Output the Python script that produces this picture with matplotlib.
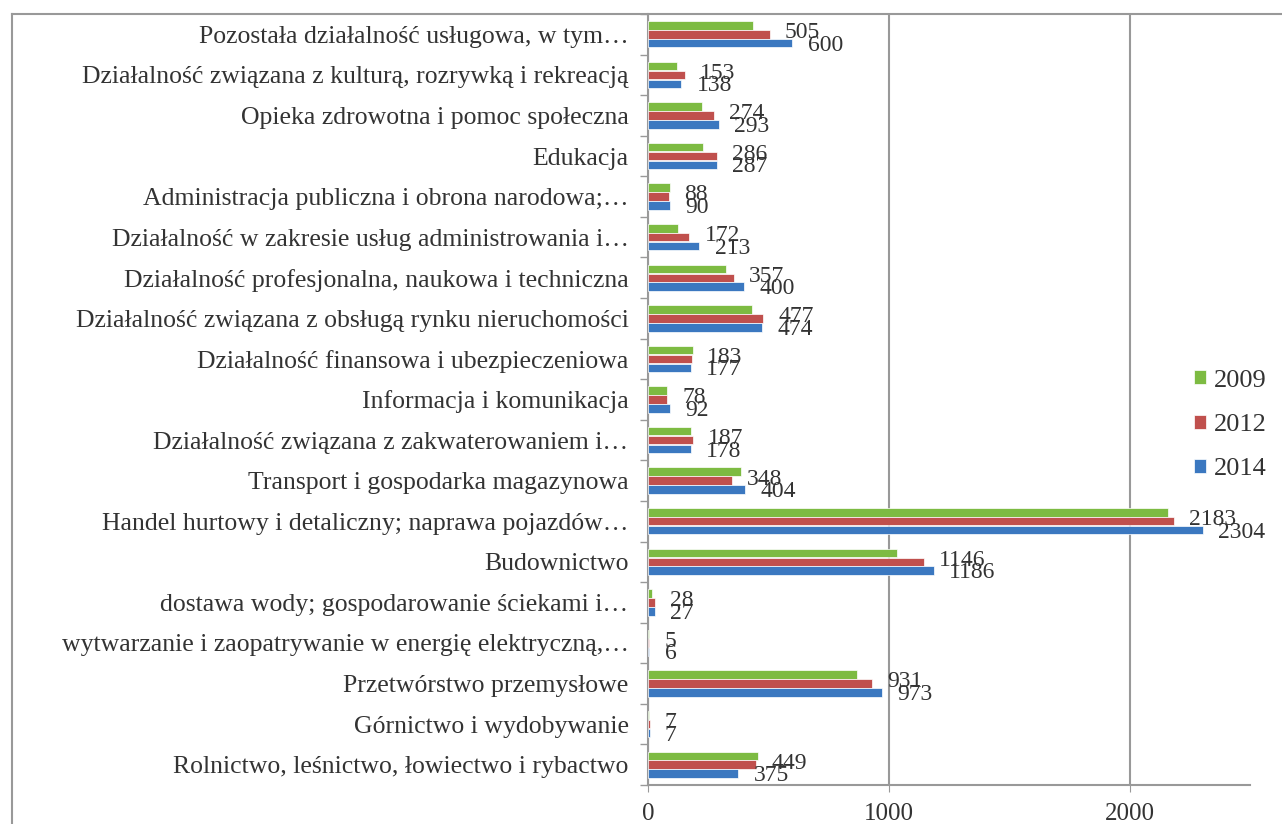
import matplotlib.pyplot as plt
import numpy as np
from matplotlib.lines import Line2D

plt.rcParams['font.family'] = ['Liberation Serif', 'DejaVu Serif']

# Kategorie (od dołu do góry)
kategorie = [
    'Rolnictwo, leśnictwo, łowiectwo i rybactwo',
    'Górnictwo i wydobywanie',
    'Przetwórstwo przemysłowe',
    'wytwarzanie i zaopatrywanie w energię elektryczną,…',
    'dostawa wody; gospodarowanie ściekami i…',
    'Budownictwo',
    'Handel hurtowy i detaliczny; naprawa pojazdów…',
    'Transport i gospodarka magazynowa',
    'Działalność związana z zakwaterowaniem i…',
    'Informacja i komunikacja',
    'Działalność finansowa i ubezpieczeniowa',
    'Działalność związana z obsługą rynku nieruchomości',
    'Działalność profesjonalna, naukowa i techniczna',
    'Działalność w zakresie usług administrowania i…',
    'Administracja publiczna i obrona narodowa;…',
    'Edukacja',
    'Opieka zdrowotna i pomoc społeczna',
    'Działalność związana z kulturą, rozrywką i rekreacją',
    'Pozostała działalność usługowa, w tym…',
]

w2009 = [455, 5, 870, 4, 18, 1035, 2160, 385, 178, 80, 185, 430, 325, 125, 90, 230, 225, 120, 435]
w2012 = [449, 7, 931, 5, 28, 1146, 2183, 348, 187, 78, 183, 477, 357, 172, 88, 286, 274, 153, 505]
w2014 = [375, 7, 973, 6, 27, 1186, 2304, 404, 178, 92, 177, 474, 400, 213, 90, 287, 293, 138, 600]

lata = ['2009', '2012', '2014']
kolory = ['#7dbb42', '#c0504d', '#3b78c0']
kolor_tekstu = '#333333'

fig = plt.figure(figsize=(12.82, 8.24), dpi=100)
ax = fig.add_axes([648 / 1282, 39 / 824, 602 / 1282, 771 / 824])

y = np.arange(len(kategorie))
h = 0.21
serie = [w2009, w2012, w2014]
przes = [0.22, 0, -0.22]
for wart, kol, dy, rok in zip(serie, kolory, przes, lata):
    ax.barh(y + dy, wart, height=h, color=kol, edgecolor='white', linewidth=0.5, label=rok, zorder=3)

# Etykiety danych tylko dla 2012 i 2014
for wart, dy in [(w2012, 0.04), (w2014, -0.27)]:
    for yi, v in zip(y, wart):
        ax.annotate(str(v), (v, yi + dy), xytext=(11, 0), textcoords='offset points',
                    va='center', ha='left', fontsize=17, color=kolor_tekstu, zorder=4)

ax.set_xlim(0, 2500)
ax.set_ylim(-0.5, len(kategorie) - 0.5)
ax.set_xticks([0, 1000, 2000])
ax.set_yticks(y)
ax.set_yticklabels(kategorie)
ax.set_yticks(np.arange(-0.5, len(kategorie), 1), minor=True)
ax.tick_params(axis='y', which='major', length=0, pad=14, labelsize=18.5, labelcolor=kolor_tekstu)
ax.tick_params(axis='y', which='minor', length=6, color='#999999', width=1)
ax.tick_params(axis='x', length=5, color='#999999', pad=8, labelsize=18, labelcolor=kolor_tekstu)
ax.grid(axis='x', color='#999999', linewidth=1.5, zorder=0)

for s in ['top', 'right']:
    ax.spines[s].set_visible(False)
for s in ['left', 'bottom']:
    ax.spines[s].set_color('#999999')
    ax.spines[s].set_linewidth(1.5)

# Ramka wykresu (lewa i górna krawędź)
fig.add_artist(Line2D([12 / 1282, 12 / 1282], [0, 1 - 14 / 824], color='#999999', lw=1.5))
fig.add_artist(Line2D([12 / 1282, 1], [1 - 14 / 824, 1 - 14 / 824], color='#999999', lw=1.5))

ax.legend(loc='center left', bbox_to_anchor=(1170 / 1282, 1 - 425 / 824), bbox_transform=fig.transFigure,
          frameon=False, fontsize=19, handlelength=0.45, handleheight=0.45, handletextpad=0.3,
          labelspacing=0.85, labelcolor=kolor_tekstu)

fig.savefig('out.png', dpi=100)
